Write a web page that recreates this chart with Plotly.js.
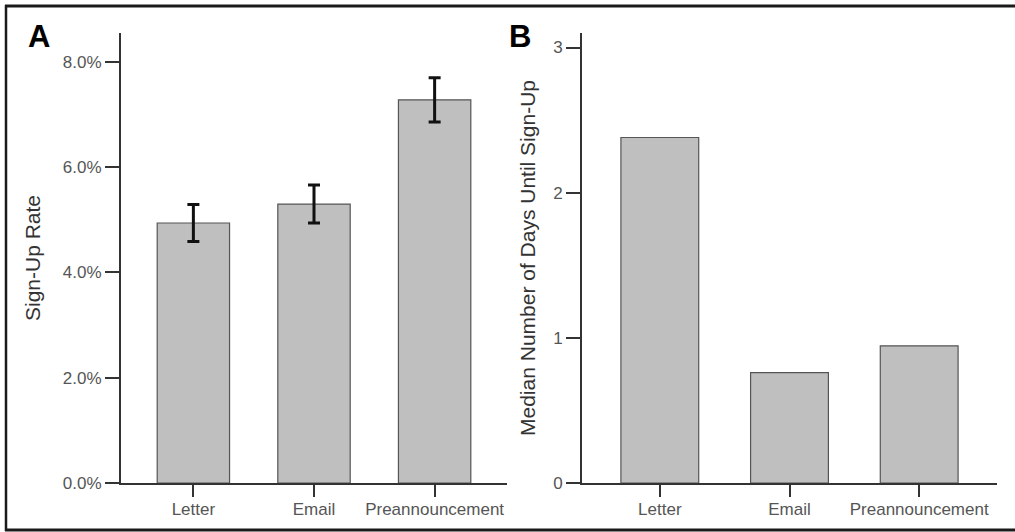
<!DOCTYPE html>
<html>
<head>
<meta charset="utf-8">
<script src="https://cdn.plot.ly/plotly-3.0.1.min.js"></script>
<style>html,body{margin:0;padding:0;background:#fff;}#chart{width:1015px;height:532px;}</style>
</head>
<body>
<div id="chart"></div>
<script>
const categories = ["Letter", "Email", "Preannouncement"];
const signUpRate = [4.94, 5.30, 7.28];
const signUpErr = [0.35, 0.36, 0.42];
const medianDays = [2.38, 0.76, 0.945];
const rateTicks = [0, 2, 4, 6, 8];
const rateTickLabels = ["0.0%", "2.0%", "4.0%", "6.0%", "8.0%"];
const dayTicks = [0, 1, 2, 3];
const dayTickLabels = ["0", "1", "2", "3"];

const W = 1015, H = 532;
const px = v => v / W, py = v => 1 - v / H;
const FONT = "Liberation Sans, Arial, sans-serif";

const barStyle = {color: "#bfbfbf", line: {color: "#555555", width: 1.2}};

const traces = [
  {type: "bar", x: [0, 1, 2], y: signUpRate, xaxis: "x", yaxis: "y", width: 0.6,
   marker: barStyle,
   error_y: {type: "data", array: signUpErr, visible: true, color: "#111111", thickness: 3, width: 6},
   hoverinfo: "skip"},
  {type: "bar", x: [0, 1, 2], y: medianDays, xaxis: "x2", yaxis: "y2", width: 0.6,
   marker: barStyle, hoverinfo: "skip"}
];

const axisCommon = {
  showgrid: false, zeroline: false, showline: true, linecolor: "#333333", linewidth: 2,
  ticks: "outside", ticklen: 13, tickwidth: 2, tickcolor: "#333333",
  tickfont: {family: FONT, size: 17, color: "#555555"},
  fixedrange: true
};

const layout = {
  width: W, height: H,
  margin: {l: 0, r: 0, t: 0, b: 0},
  paper_bgcolor: "#ffffff", plot_bgcolor: "#ffffff",
  showlegend: false,
  xaxis: Object.assign({}, axisCommon, {
    domain: [px(121), px(507)], range: [-0.6, 2.6], anchor: "y",
    tickvals: [0, 1, 2], ticktext: categories, ticklen: 12, ticklabelstandoff: -2
  }),
  yaxis: Object.assign({}, axisCommon, {
    domain: [py(483), py(33)], range: [0, 8.55], anchor: "x",
    tickvals: rateTicks, ticktext: rateTickLabels, ticklen: 14,
    title: {text: "Sign-Up Rate", font: {family: FONT, size: 21, color: "#333333"}, standoff: 16}
  }),
  xaxis2: Object.assign({}, axisCommon, {
    domain: [px(582), px(997)], range: [-0.6, 2.6], anchor: "y2",
    tickvals: [0, 1, 2], ticktext: categories, ticklen: 12, ticklabelstandoff: -2
  }),
  yaxis2: Object.assign({}, axisCommon, {
    domain: [py(483), py(33)], range: [0, 3.1], anchor: "x2",
    tickvals: dayTicks, ticktext: dayTickLabels, ticklen: 14,
    title: {text: "Median Number of Days Until Sign-Up", font: {family: FONT, size: 21, color: "#333333"}, standoff: 12}
  }),
  annotations: [
    {text: "<b>A</b>", xref: "paper", yref: "paper", x: px(26), y: py(36), xanchor: "left", yanchor: "middle",
     showarrow: false, font: {family: FONT, size: 31, color: "#000000"}},
    {text: "<b>B</b>", xref: "paper", yref: "paper", x: px(507), y: py(36), xanchor: "left", yanchor: "middle",
     showarrow: false, font: {family: FONT, size: 31, color: "#000000"}}
  ],
  shapes: [
    {type: "line", xref: "paper", yref: "paper", x0: px(5), x1: 1, y0: py(6), y1: py(6), line: {color: "#1a1a1a", width: 3}},
    {type: "line", xref: "paper", yref: "paper", x0: px(6), x1: px(6), y0: py(5), y1: py(531), line: {color: "#1a1a1a", width: 2.5}},
    {type: "line", xref: "paper", yref: "paper", x0: px(5), x1: 1, y0: py(530), y1: py(530), line: {color: "#1a1a1a", width: 3}}
  ]
};

Plotly.newPlot("chart", traces, layout, {displayModeBar: false, staticPlot: true});
</script>
</body>
</html>
